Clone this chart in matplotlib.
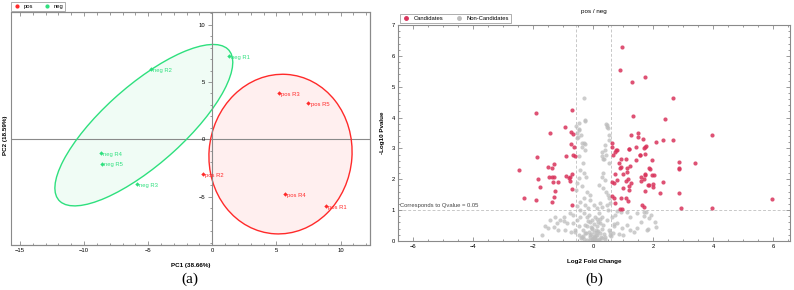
import numpy as np
import matplotlib
matplotlib.use("Agg")
import matplotlib.pyplot as plt
from matplotlib.patches import Ellipse, Rectangle
from matplotlib.lines import Line2D
from matplotlib.ticker import MultipleLocator

# ---------- PCA data (a) ----------
pos_labels = ["pos R1", "pos R2", "pos R3", "pos R4", "pos R5"]
pos_pc1 = [8.9, -0.7, 5.2, 5.7, 7.5]
pos_pc2 = [-5.8, -3.0, 4.0, -4.8, 3.2]

neg_labels = ["neg R1", "neg R2", "neg R3", "neg R4", "neg R5"]
neg_pc1 = [1.3, -4.8, -5.9, -8.7, -8.6]
neg_pc2 = [7.3, 6.1, -3.9, -1.2, -2.1]

# scale of the confidence ellipse along PC1 / PC2
pos_k = (1.52, 1.52)
neg_k = (1.70, 1.38)

# ---------- volcano data (b) ----------
cand_fc = [0.96, 0.89, 1.28, 1.72, 2.67, 1.32, 2.40, 1.27, 1.48, 1.48, 1.66, 2.09, 2.32, 2.66,
           3.94, 0.62, 0.63, 1.20, 1.42, 1.73, 1.76, 1.70, 0.78, 1.57, 1.71, 1.96, 2.84, 3.39,
           1.87, 2.87, 2.84, 1.96, 2.01, 1.71, 1.70, 1.60, 1.81, 1.84, 2.00, 1.99, 2.31, 1.71,
           2.22, 2.86, 5.96, 1.63, 1.69, 2.92, 3.94, 0.77, 0.72, 1.19, 0.66, 1.54, 0.86, 0.93,
           1.09, 0.90, 0.93, 1.12, 1.24, 1.43, 0.72, 0.99, 1.13, 1.17, 1.08, 0.68, 0.61, 0.79,
           0.99, 1.20, 1.26, 1.19, 0.62, 0.68, 0.94, 1.08, 1.16, 0.73, 0.90, 0.96, 1.59, 1.88,
           1.72,
           -1.92, -0.70, -0.93, -1.44, -0.73, -0.68, -0.74, -0.63, -1.88, -0.91, -2.48, -1.52,
           -1.36, -1.29, -1.84, -1.46, -1.36, -1.30, -0.92, -0.82, -0.66, -0.62, -1.34, -1.18,
           -0.79, -0.71, -0.77, -1.77, -1.26, -0.72, -2.32, -1.89, -1.31, -1.37, -0.70]
cand_p = [6.28, 5.53, 5.14, 5.32, 4.64, 4.04, 3.96, 3.42, 3.50, 3.36, 3.29, 3.21, 3.28, 3.28,
          3.42, 3.19, 3.06, 2.99, 3.05, 3.05, 3.09, 3.02, 2.96, 2.80, 2.81, 2.61, 2.56, 2.54,
          2.36, 2.37, 2.33, 2.15, 2.13, 2.14, 2.02, 1.93, 1.83, 1.80, 1.85, 1.75, 1.90, 1.63,
          1.56, 1.55, 1.35, 1.16, 1.09, 1.08, 1.08, 2.95, 2.88, 2.98, 2.78, 2.80, 2.52, 2.65,
          2.65, 2.37, 2.41, 2.37, 2.44, 2.61, 2.16, 2.16, 2.25, 2.02, 1.94, 1.89, 1.91, 1.98,
          1.73, 1.79, 1.89, 1.66, 1.46, 1.40, 1.39, 1.39, 1.31, 1.22, 1.04, 1.05, 2.08, 2.34,
          2.16,
          4.16, 4.26, 3.68, 3.50, 3.52, 3.46, 3.15, 3.06, 2.73, 2.76, 2.31, 2.40,
          2.38, 2.48, 2.01, 2.06, 2.06, 2.06, 2.11, 2.04, 2.79, 2.74, 1.91, 1.91,
          2.06, 2.17, 1.96, 1.76, 1.62, 1.68, 1.40, 1.33, 1.41, 1.26, 1.17]

non_fc = [-0.32, -0.26, -0.57, -0.46, -0.54, -0.52, -0.39, -0.27, 0.44, 0.47,
          -0.49, -0.27, -0.46, -0.41, -0.54, -0.32, -0.38, -0.27, 0.46, 0.48, 0.52, 0.54,
          0.40, 0.29, 0.29, 0.43, 0.37, 0.51, -0.49, -0.34, -0.43, -0.30, -0.23, -0.49,
          -0.54, -0.38, -0.56, 0.18, 0.29, 0.40, 0.32, 0.43, 0.48, 0.54, -0.21, -0.12,
          -0.10, -0.32, -0.43, -0.27, -0.54, -0.16, 0.01, 0.12, 0.23, 0.29, 0.46, 0.57,
          0.79, 0.92, 1.12, 1.23, 1.46, 1.68, 1.84, 2.07, 0.73, 0.62, 0.46, 0.29, 0.18,
          0.07, -0.04, -0.21, -0.32, -0.43, -0.54, -0.66, -0.77, -0.99, -1.10, -1.27, -1.43,
          -1.60, -1.71, -1.16, -0.88, -0.66, -0.49, -0.34, -0.21, -0.04, 0.12, 0.23, 0.34,
          0.51, 0.68, 0.79, 0.96, 1.12, 1.23, 1.46, 1.79, -0.49, -0.38, -0.27, -0.10, 0.01,
          0.07, 0.12, 0.23, 0.40, 0.57, -0.10, 0.07, 0.18, 1.70, 1.76, 1.92, 1.60, 2.09,
          1.83, 0.40, 0.34, 0.32, -1.49, -1.21, -0.99, 0.00, 0.05, -0.05, 0.10, -0.10, 0.02,
          -0.15, 0.15, 0.30, -0.30, 0.08, -0.08, 0.20, -0.20, 0.03, -0.02, 0.12, 0.25,
          -0.25, 0.35, -0.35, 0.55, -0.60, 0.65, -0.75, 0.85, 1.00, -0.95, 1.35, -1.30,
          -0.05, 0.04, -0.12, 0.16, 0.22, -0.18, 0.09, -0.07, 0.28, -0.28, 0.38, -0.42,
          0.60, -0.62, 0.70, 0.48, -0.45, 0.14, -0.14]
non_p = [4.62, 3.90, 3.74, 3.63, 3.50, 3.37, 3.19, 3.15, 3.79, 3.69,
         3.82, 3.91, 3.61, 3.44, 3.33, 3.17, 3.04, 2.96, 3.77, 3.66, 3.44, 3.28,
         3.12, 2.90, 2.74, 2.79, 2.65, 2.54, 2.74, 2.52, 2.31, 2.20, 2.09, 2.04,
         1.87, 1.77, 1.66, 1.82, 2.09, 1.98, 1.71, 1.60, 1.49, 1.39, 1.60, 1.49,
         1.33, 1.39, 1.25, 1.17, 1.12, 1.06, 1.17, 1.06, 1.22, 1.09, 1.17, 1.22,
         0.97, 0.95, 0.95, 0.79, 0.90, 0.81, 0.74, 0.63, 0.85, 0.77, 0.68, 0.79, 0.90,
         0.79, 0.68, 0.79, 0.90, 0.79, 0.68, 0.85, 0.90, 0.79, 0.68, 0.79, 0.68,
         0.47, 0.20, 0.36, 0.57, 0.57, 0.47, 0.36, 0.47, 0.41, 0.47, 0.57, 0.52,
         0.36, 0.47, 0.57, 0.41, 0.52, 0.36, 0.41, 0.36, 0.20, 0.14, 0.25, 0.20, 0.14,
         0.09, 0.20, 0.25, 0.14, 0.20, 0.03, 0.02, 0.03, 0.95, 0.93, 0.85, 0.61, 0.46,
         0.38, 2.96, 2.66, 2.20, 0.41, 0.59, 0.66, 0.05, 0.10, 0.08, 0.02, 0.12, 0.30,
         0.30, 0.32, 0.10, 0.06, 0.18, 0.22, 0.06, 0.04, 0.15, 0.11, 0.28, 0.12,
         0.26, 0.24, 0.17, 0.30, 0.28, 0.25, 0.30, 0.22, 0.20, 0.35, 0.28, 0.45,
         0.40, 0.55, 0.62, 0.60, 0.70, 0.66, 0.35, 0.45, 0.38, 0.52, 0.06, 0.10,
         0.15, 0.35, 0.55, 1.00, 1.02, 0.72, 0.85]

fc_cut = np.log2(1.5)
q_line = 1.0

# ---------- style ----------
RED = "#ff2a2a"
GREEN = "#2ee07e"
CAND = "#d9345c"
NONC = "#bdbdbd"
FRAME = "#8a8a8a"

plt.rcParams["font.family"] = ["Liberation Sans", "DejaVu Sans"]

fig = plt.figure(figsize=(7.94, 2.90), dpi=100)


def conf_ellipse(x, y, k, color):
    # covariance ellipse around the group mean, scaled per axis by k
    x = np.asarray(x)
    y = np.asarray(y)
    d = np.diag(k)
    cov = d @ np.cov(x, y) @ d
    vals, vecs = np.linalg.eigh(cov)
    angle = np.degrees(np.arctan2(vecs[1, 1], vecs[0, 1]))
    w = 2 * np.sqrt(vals[1])
    h = 2 * np.sqrt(vals[0])
    fill = Ellipse((x.mean(), y.mean()), w, h, angle=angle, facecolor=color,
                   alpha=0.07, edgecolor="none", zorder=1)
    edge = Ellipse((x.mean(), y.mean()), w, h, angle=angle, facecolor="none",
                   edgecolor=color, lw=1.0, zorder=2)
    return fill, edge


# ===== panel (a) =====
ax1 = fig.add_axes([11 / 794, 1 - 245 / 290, 359 / 794, 233 / 290])
ax1.set_xlim(-15.7, 12.3)
ax1.set_ylim(-9.2, 11.1)

for xs, ys, k, c in [(pos_pc1, pos_pc2, pos_k, RED), (neg_pc1, neg_pc2, neg_k, GREEN)]:
    f, e = conf_ellipse(xs, ys, k, c)
    ax1.add_patch(f)
    ax1.add_patch(e)

ax1.axhline(0, color=FRAME, lw=0.8, zorder=1.5)
ax1.scatter(pos_pc1, pos_pc2, s=5, color=RED, marker="D", zorder=3, linewidths=0)
ax1.scatter(neg_pc1, neg_pc2, s=5, color=GREEN, marker="D", zorder=3, linewidths=0)
for lab, x, y in zip(pos_labels, pos_pc1, pos_pc2):
    ax1.annotate(lab, (x, y), xytext=(1.5, -1), textcoords="offset points",
                 fontsize=4.2, color=RED, va="center")
for lab, x, y in zip(neg_labels, neg_pc1, neg_pc2):
    ax1.annotate(lab, (x, y), xytext=(1.5, -1), textcoords="offset points",
                 fontsize=4.2, color=GREEN, va="center")

# y axis drawn on the x = 0 line, outer box kept
ax1.spines["left"].set_position(("data", 0))
for s in ax1.spines.values():
    s.set_color(FRAME)
    s.set_linewidth(0.8)
ax1.add_patch(Rectangle((0, 0), 1, 1, transform=ax1.transAxes, fill=False,
                        edgecolor=FRAME, lw=0.8, clip_on=False, zorder=4))
ax1.set_xticks([-15, -10, -5, 0, 5, 10])
ax1.set_yticks([-5, 0, 5, 10])
ax1.xaxis.set_minor_locator(MultipleLocator(1))
ax1.yaxis.set_minor_locator(MultipleLocator(1))
ax1.tick_params(which="both", direction="in", color=FRAME, labelsize=4.2,
                top=True, width=0.6, pad=2)
ax1.tick_params(which="major", length=3)
ax1.tick_params(which="minor", length=1.8)
ax1.tick_params(axis="y", which="both", left=True, right=False, direction="out")
ax1.set_xlabel("PC1 (38.66%)", fontsize=4.5, fontweight="bold", labelpad=7)
fig.text(6 / 794, 1 - 135 / 290, "PC2 (18.59%)", rotation=90, fontsize=4.5,
         fontweight="bold", ha="center", va="center")

h1 = [Line2D([], [], ls="none", marker="o", ms=2, color=RED),
      Line2D([], [], ls="none", marker="o", ms=2, color=GREEN)]
leg1 = ax1.legend(h1, ["pos", "neg"], ncol=2, fontsize=4.2, loc="lower left",
                  bbox_to_anchor=(0, 1.005), frameon=True, fancybox=False,
                  borderpad=0.3, handletextpad=0.4, columnspacing=1.6,
                  handlelength=1.5, borderaxespad=0)
leg1.get_frame().set_edgecolor(FRAME)
leg1.get_frame().set_linewidth(0.6)

# ===== panel (b) =====
ax2 = fig.add_axes([398 / 794, 1 - 241 / 290, 392 / 794, 216 / 290])
ax2.set_xlim(-6.5, 6.55)
ax2.set_ylim(0, 7)
ax2.axvline(-fc_cut, color="#c8c8c8", lw=0.7, ls=(0, (3, 2)), zorder=1)
ax2.axvline(fc_cut, color="#c8c8c8", lw=0.7, ls=(0, (3, 2)), zorder=1)
ax2.axhline(q_line, color="#c8c8c8", lw=0.7, ls=(0, (3, 2)), zorder=1)
ax2.text(-6.45, q_line + 0.06, "Corresponds to Qvalue = 0.05", fontsize=4.2,
         color="#444444", va="bottom")
ax2.scatter(non_fc, non_p, s=9, color=NONC, alpha=0.75, linewidths=0, zorder=2)
ax2.scatter(cand_fc, cand_p, s=9, color=CAND, alpha=0.85, linewidths=0, zorder=3)

for s in ax2.spines.values():
    s.set_color(FRAME)
    s.set_linewidth(0.8)
ax2.set_xticks([-6, -4, -2, 0, 2, 4, 6])
ax2.set_yticks(range(0, 8))
ax2.xaxis.set_minor_locator(MultipleLocator(0.5))
ax2.yaxis.set_minor_locator(MultipleLocator(0.2))
ax2.tick_params(which="both", direction="in", color=FRAME, labelsize=4.2,
                top=True, right=True, width=0.6, pad=2)
ax2.tick_params(which="major", length=3)
ax2.tick_params(which="minor", length=1.5)
ax2.set_xlabel("Log2 Fold Change", fontsize=4.5, fontweight="bold", labelpad=7)
ax2.set_ylabel("-Log10 Pvalue", fontsize=4.5, fontweight="bold", labelpad=5)
ax2.set_title("pos / neg", fontsize=4.5, pad=9)

h2 = [Line2D([], [], ls="none", marker="o", ms=2.5, color=CAND),
      Line2D([], [], ls="none", marker="o", ms=2.5, color=NONC)]
leg2 = ax2.legend(h2, ["Candidates", "Non-Candidates"], ncol=2, fontsize=4.2,
                  loc="lower left", bbox_to_anchor=(0.005, 1.01), frameon=True,
                  fancybox=False, borderpad=0.3, handletextpad=0.6,
                  columnspacing=1.8, handlelength=1.5, borderaxespad=0)
leg2.get_frame().set_edgecolor(FRAME)
leg2.get_frame().set_linewidth(0.6)

fig.text(190 / 794, 1 - 279 / 290, "(a)", fontsize=11, family="Liberation Serif",
         ha="center", va="center")
fig.text(594 / 794, 1 - 279 / 290, "(b)", fontsize=11, family="Liberation Serif",
         ha="center", va="center")

fig.savefig("out.png", dpi=100)
